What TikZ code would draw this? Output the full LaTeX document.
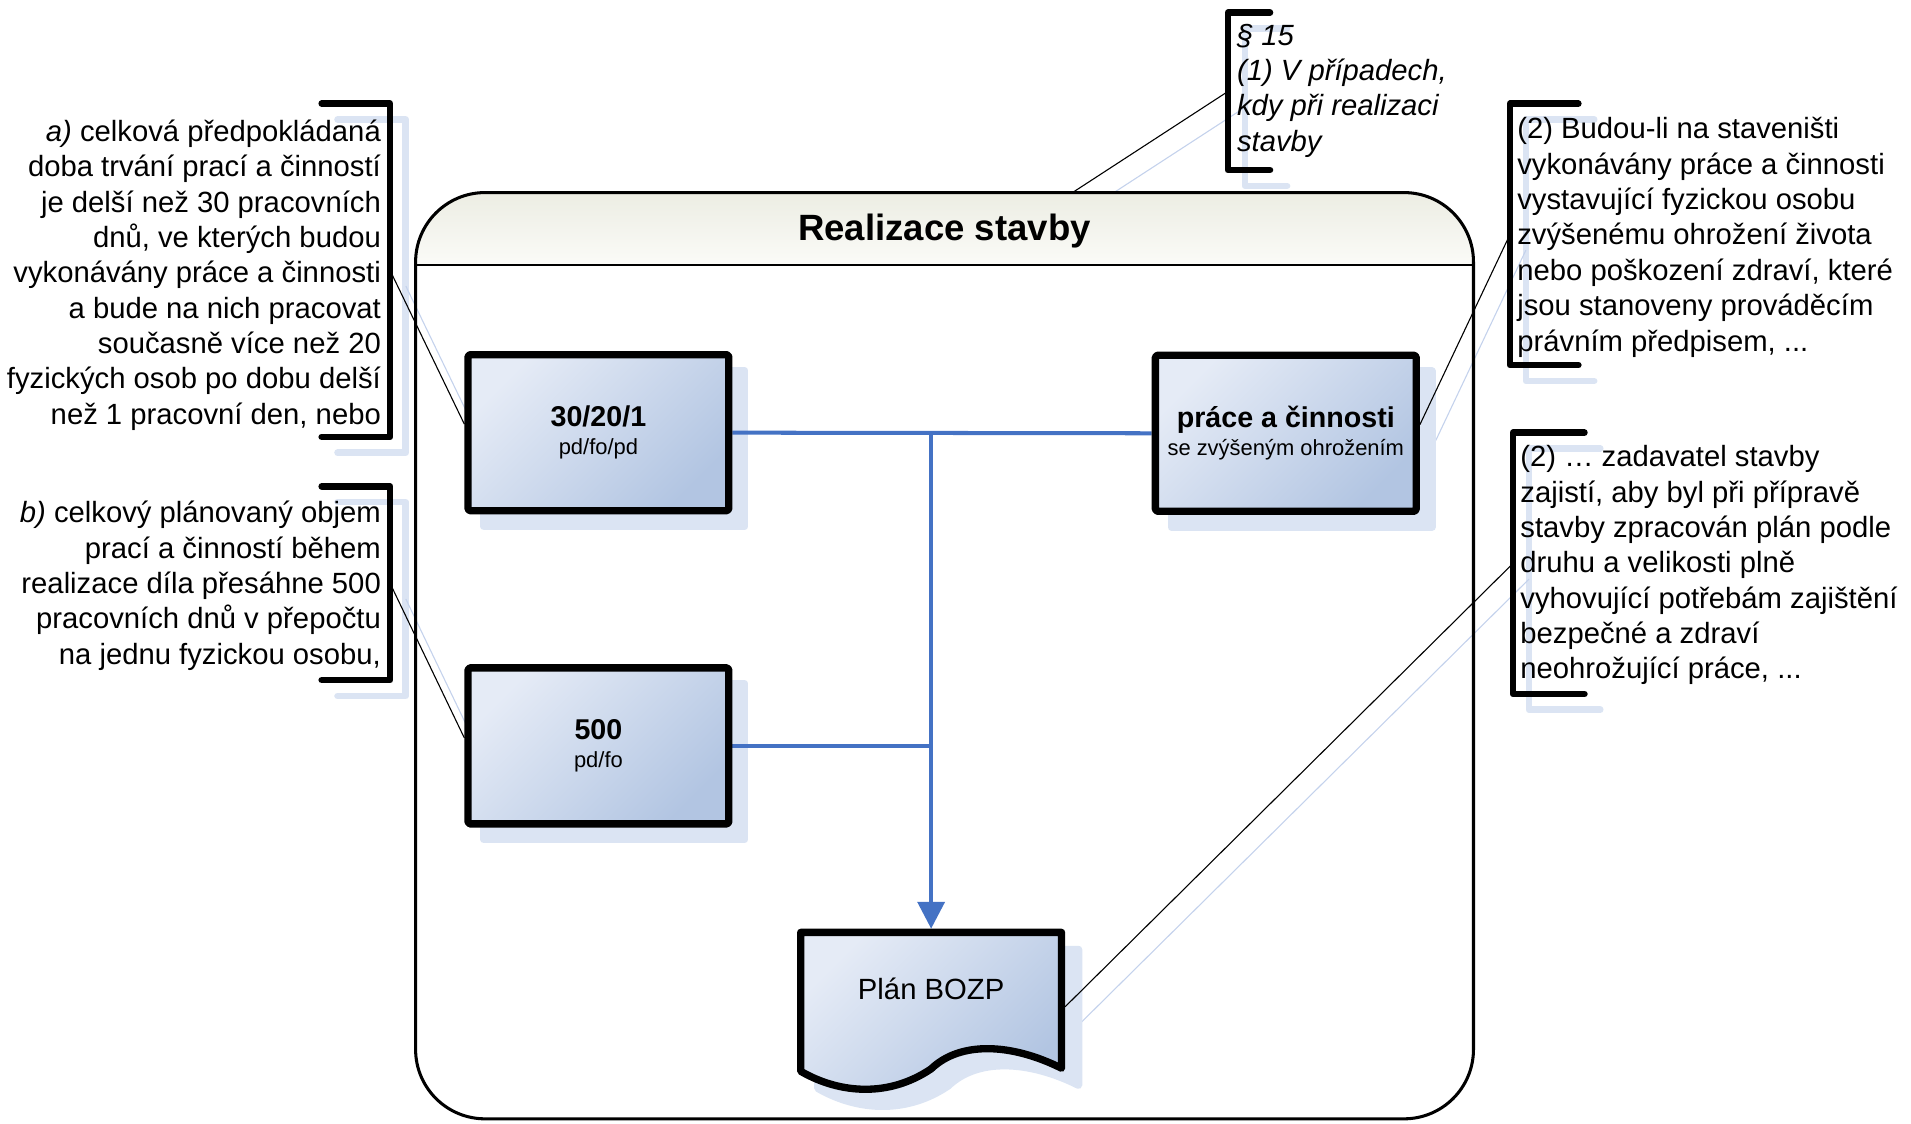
\documentclass[tikz,border=0pt]{standalone}
\usepackage{fontspec}
\setmainfont{Liberation Sans}
\usetikzlibrary{arrows.meta,calc,backgrounds}
\definecolor{boxl}{RGB}{229,235,246}
\definecolor{boxd}{RGB}{178,197,226}
\definecolor{shd}{RGB}{219,228,243}
\definecolor{shdline}{RGB}{196,210,236}
\definecolor{hdrtop}{RGB}{236,237,227}
\definecolor{hdrbot}{RGB}{251,251,248}
\definecolor{connc}{RGB}{68,114,196}
\begin{document}
\begin{tikzpicture}[x=1pt,y=-1pt,
  box/.style={draw=black, line width=6pt, line join=round, rounded corners=1.5pt,
    top color=boxl, bottom color=boxd, shading angle=45,
    minimum width=214pt, minimum height=128pt, inner sep=0pt, align=center,
    font=\fontsize{18}{23}\selectfont},
  docshape/.style={draw=black, line width=6pt, line join=round,
    top color=boxl, bottom color=boxd, shading angle=45},
  docnode/.style={minimum width=220pt, minimum height=99pt, inner sep=0pt, outer sep=0pt,
    font=\fontsize{24}{29}\selectfont},
  ctext/.style={inner sep=0pt, outer sep=0pt, font=\fontsize{24}{29}\selectfont},
  brk/.style={draw=black, line width=5.5pt, line cap=round, line join=round},
  brksh/.style={draw=shd, line width=5.5pt, line cap=round, line join=round},
  lead/.style={draw=black, line width=0.9pt},
  leadsh/.style={draw=shdline, line width=0.9pt},
  cn/.style={draw=connc, line width=3.3pt},
  boxsh/.style={fill=shd, draw=shd, line width=6pt, line join=round}
]
\useasboundingbox (0,0) rectangle (1568,922);

% ---------- main nodes ----------
\node[box] (b1) at (491,355) {{\fontsize{23.5}{23}\selectfont\bfseries 30/20/1}\\pd/fo/pd};
\node[box] (b2) at (491,612) {{\fontsize{23.5}{23}\selectfont\bfseries 500}\\pd/fo};
\node[box] (b3) at (1055,355.5) {{\fontsize{23.5}{23}\selectfont\bfseries práce a činnosti}\\se zvýšeným ohrožením};

\path[docshape] (657,765) -- (871,765) -- (871,876.5)
  .. controls (830,856) and (788,854) .. (764,877)
  .. controls (730,900) and (690,898) .. (657,879) -- cycle;
\node[docnode] (doc) at (764,811.5) {Plán BOZP};

\node[anchor=base, font=\fontsize{30}{36}\selectfont\bfseries, inner sep=0pt] (title) at (775,197.5) {Realizace stavby};

% ---------- callout texts (anchored at the baseline of the last line) ----------
\node[ctext, anchor=base east, align=right] (ta) at (312.5,348)
 {\textit{a)} celková předpokládaná\\doba trvání prací a činností\\je delší než 30 pracovních\\dnů, ve kterých budou\\vykonávány práce a činnosti\\a bude na nich pracovat\\současně více než 20\\fyzických osob po dobu delší\\než 1 pracovní den, nebo};
\node[ctext, anchor=base east, align=right] (tb) at (312.5,545)
 {\textit{b)} celkový plánovaný objem\\prací a činností během\\realizace díla přesáhne 500\\pracovních dnů v přepočtu\\na jednu fyzickou osobu,};
\node[ctext, anchor=base west, align=left, font=\fontsize{24}{29}\selectfont\itshape] (t15) at (1015,124)
 {§ 15\\(1) V případech,\\kdy při realizaci\\stavby};
\node[ctext, anchor=base west, align=left] (tr1) at (1245,288)
 {(2) Budou-li na staveništi\\vykonávány práce a činnosti\\vystavující fyzickou osobu\\zvýšenému ohrožení života\\nebo poškození zdraví, které\\jsou stanoveny prováděcím\\právním předpisem, ...};
\node[ctext, anchor=base west, align=left] (tr2) at (1247.5,557)
 {(2) … zadavatel stavby\\zajistí, aby byl při přípravě\\stavby zpracován plán podle\\druhu a velikosti plně\\vyhovující potřebám zajištění\\bezpečné a zdraví\\neohrožující práce, ...};

% ---------- anchor coordinates ----------
\coordinate (qa) at (320,221.75);
\coordinate (qb) at (320,478.5);
\coordinate (q15) at (1007.6,75);
\coordinate (qr1) at (1239,192.25);
\coordinate (qr2) at (1241.5,462.2);
\coordinate (c15) at (880,158);
\coordinate (j1) at (doc.north |- b1.east);
\coordinate (j2) at (doc.north |- b2.east);

\begin{scope}[on background layer]
  % bracket shadows
  \draw[brksh] (277,98) -- (333,98) -- (333,371.5) -- (277,371.5);
  \draw[brksh] (277,412) -- (333,412) -- (333,571) -- (277,571);
  \draw[brksh] (1056,23.4) -- (1021.6,23.4) -- (1021.6,152.5) -- (1056,152.5);
  \draw[brksh] (1308,98) -- (1252,98) -- (1252,312.5) -- (1308,312.5);
  \draw[brksh] (1313,368) -- (1254.5,368) -- (1254.5,582.4) -- (1313,582.4);
  % leader shadows
  \draw[leadsh] ($(qa)+(13,13)$) -- ($([yshift=7pt]b1.west)+(13,13)$);
  \draw[leadsh] ($(qb)+(13,13)$) -- ($([yshift=6.5pt]b2.west)+(13,13)$);
  \draw[leadsh] ($(q15)+(14,13)$) -- ($(c15)+(14,13)$);
  \draw[leadsh] ($(qr1)+(13,13)$) -- ($([yshift=7pt]b3.east)+(13,13)$);
  \draw[leadsh] ($(qr2)+(13,13)$) -- ($([yshift=-14.5pt]doc.east)+(13,13)$);
  % box shadows
  \path[boxsh] ($(b1.south west)+(16,10)$) rectangle ($(b1.north east)+(10,16)$);
  \path[boxsh] ($(b2.south west)+(16,10)$) rectangle ($(b2.north east)+(10,16)$);
  \path[boxsh] ($(b3.south west)+(16,10)$) rectangle ($(b3.north east)+(10,16)$);
  \path[boxsh, shift={(14,14)}] (657,765) -- (871,765) -- (871,876.5)
    .. controls (830,856) and (788,854) .. (764,877)
    .. controls (730,900) and (690,898) .. (657,879) -- cycle;
  % container
  \begin{scope}
    \clip[rounded corners=57pt] (341,158) rectangle (1209,918);
    \shade[top color=hdrtop, bottom color=hdrbot] (341,158) rectangle (1209,217.5);
  \end{scope}
  \draw[line width=2.5pt, rounded corners=57pt] (341,158) rectangle (1209,918);
  \draw[line width=2pt] (341,217.5) -- (1209,217.5);
  % brackets
  \draw[brk] (264,85) -- (320,85) -- (320,358.5) -- (264,358.5);
  \draw[brk] (264,399) -- (320,399) -- (320,558) -- (264,558);
  \draw[brk] (1042,10.4) -- (1007.6,10.4) -- (1007.6,139.5) -- (1042,139.5);
  \draw[brk] (1295,85) -- (1239,85) -- (1239,299.5) -- (1295,299.5);
  \draw[brk] (1300,355) -- (1241.5,355) -- (1241.5,569.4) -- (1300,569.4);
  % leaders
  \draw[lead] (qa) -- ([yshift=7pt]b1.west);
  \draw[lead] (qb) -- ([yshift=6.5pt]b2.west);
  \draw[lead] (q15) -- (c15);
  \draw[lead] (qr1) -- ([yshift=7pt]b3.east);
  \draw[lead] (qr2) -- ([yshift=-14.5pt]doc.east);
  % blue connectors
  \draw[cn] (b1.east) -- (b3.west);
  \draw[cn] (b2.east) -- (j2);
  \draw[cn, -{Triangle[length=22pt, width=22pt]}] (j1) -- (doc.north);
\end{scope}
\end{tikzpicture}
\end{document}
